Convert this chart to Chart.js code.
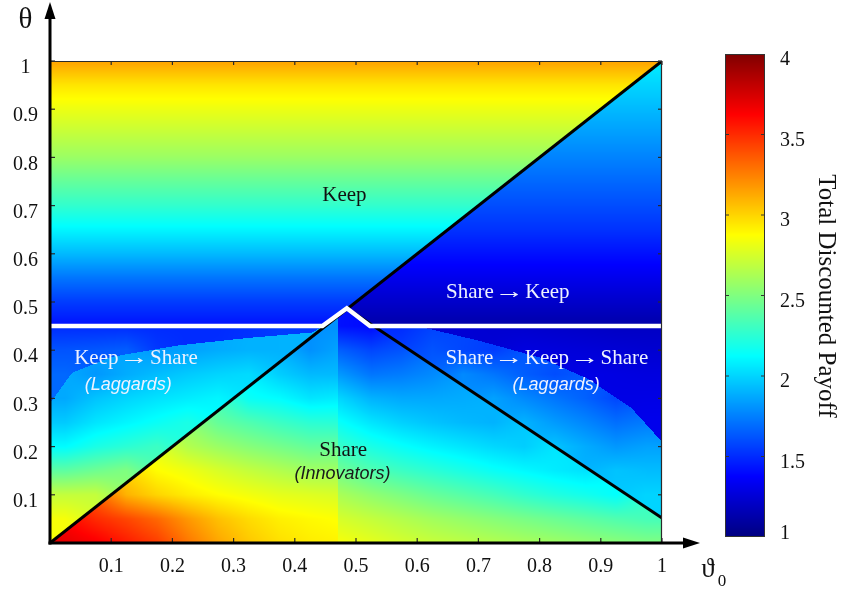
<!DOCTYPE html>
<html><head><meta charset="utf-8">
<script src="https://cdn.jsdelivr.net/npm/chart.js"></script>
<style>html,body{margin:0;padding:0;background:#fff;}canvas{display:block;}</style>
</head><body>
<canvas id="c" width="844" height="593"></canvas>
<script>
// ---------------- data ----------------
const xTickValues = [0.1,0.2,0.3,0.4,0.5,0.6,0.7,0.8,0.9,1];
const xTickLabels = ['0.1','0.2','0.3','0.4','0.5','0.6','0.7','0.8','0.9','1'];
const yTickValues = [0.1,0.2,0.3,0.4,0.5,0.6,0.7,0.8,0.9,1];
const yTickLabels = ['0.1','0.2','0.3','0.4','0.5','0.6','0.7','0.8','0.9','1'];
const cbTickValues = [1,1.5,2,2.5,3,3.5,4];
const cbTickLabels = ['1','1.5','2','2.5','3','3.5','4'];
const cbRange = [1,4];

// upper part (theta above the switching line): payoff by theta
const upperTheta      = [0.45,0.50,0.55,0.60,0.65,0.70,0.75,0.80,0.85,0.90,0.95,1.00];
const keepPayoff      = [1.42,1.55,1.72,1.92,2.10,2.27,2.42,2.58,2.70,2.82,2.95,3.15];
const shareKeepPayoff = [1.12,1.22,1.32,1.42,1.52,1.60,1.68,1.76,1.84,1.92,2.00,2.08];

// lower part (theta below the switching line): payoff grid, rows top (0.45) -> bottom (0)
const lowerGridX = [0.025,0.075,0.125,0.175,0.225,0.275,0.325,0.375,0.425,0.475,0.525,0.575,0.625,0.675,0.725,0.775,0.825,0.875,0.925,0.975];
const lowerGridTheta = [0.45,0.40,0.35,0.30,0.25,0.20,0.15,0.10,0.05,0.00];
const payoffT045 = [1.50,1.50,1.50,1.50,1.50,1.50,1.52,1.55,1.55,1.42,1.40,1.50,1.25,1.25,1.24,1.23,1.22,1.21,1.20,1.20];
const payoffT040 = [1.62,1.63,1.65,1.82,1.85,1.88,1.90,1.90,1.80,1.65,1.58,1.62,1.62,1.58,1.55,1.28,1.27,1.26,1.25,1.24];
const payoffT035 = [1.68,1.82,1.88,1.93,1.97,2.00,2.02,1.98,1.92,1.82,1.72,1.74,1.78,1.78,1.72,1.65,1.60,1.30,1.29,1.28];
const payoffT030 = [1.87,1.95,2.00,2.04,2.07,2.10,2.15,2.12,2.05,2.00,1.90,1.87,1.87,1.88,1.85,1.78,1.72,1.66,1.58,1.30];
const payoffT025 = [1.97,2.05,2.10,2.15,2.20,2.42,2.36,2.30,2.25,2.14,2.05,1.99,1.95,1.92,1.90,1.90,1.83,1.77,1.70,1.32];
const payoffT020 = [2.12,2.20,2.25,2.30,2.65,2.58,2.52,2.47,2.42,2.28,2.20,2.14,2.09,2.05,2.01,1.98,1.95,1.88,1.82,1.85];
const payoffT015 = [2.40,2.45,2.50,2.88,2.83,2.76,2.70,2.65,2.60,2.45,2.36,2.30,2.25,2.20,2.15,2.11,2.07,2.04,1.95,1.93];
const payoffT010 = [2.70,2.70,3.10,3.00,2.93,2.88,2.84,2.80,2.78,2.62,2.55,2.49,2.43,2.38,2.33,2.27,2.22,2.18,2.13,2.00];
const payoffT005 = [2.85,3.50,3.42,3.32,3.18,3.06,2.98,2.92,2.89,2.75,2.70,2.65,2.60,2.56,2.52,2.48,2.44,2.40,2.36,2.33];
const payoffT000 = [3.70,3.65,3.55,3.45,3.28,3.14,3.04,2.97,2.93,2.85,2.80,2.75,2.71,2.68,2.65,2.62,2.59,2.56,2.53,2.50];
const lowerPayoff = [payoffT045,payoffT040,payoffT035,payoffT030,payoffT025,payoffT020,payoffT015,payoffT010,payoffT005,payoffT000];

// region boundaries
const switchLineX     = [0, 0.445, 0.485, 0.523, 1];
const switchLineTheta = [0.45, 0.45, 0.487, 0.45, 0.45];
const diagX = [0, 1], diagTheta = [0, 1];
const descX = [0.485, 1], descTheta = [0.487, 0.052];
const leftArcX     = [0, 0.036, 0.10, 0.21, 0.32, 0.43, 0.445];
const leftArcTheta = [0.29, 0.353, 0.386, 0.41, 0.425, 0.437, 0.45];
const rightArcX     = [0.60, 0.70, 0.80, 0.88, 0.95, 1.00];
const rightArcTheta = [0.45, 0.42, 0.385, 0.34, 0.28, 0.21];
const seamX = [0.47];

// region captions
const captionTexts = ['Keep','Share \u2192 Keep','Keep \u2192 Share','(Laggards)','Share \u2192 Keep \u2192 Share','(Laggards)','Share','(Innovators)'];

// ---------------- helpers ----------------
function interpPoly(xs, ys, x){
  if (x <= xs[0]) return ys[0];
  const n = xs.length;
  if (x >= xs[n-1]) return ys[n-1];
  for (let i=1;i<n;i++){
    if (x <= xs[i]){ const f=(x-xs[i-1])/(xs[i]-xs[i-1]); return ys[i-1]+f*(ys[i]-ys[i-1]); }
  }
  return ys[n-1];
}
function regionAt(x,t){
  const w = interpPoly(switchLineX, switchLineTheta, x);
  if (t > w) return t > x ? 'keep' : 'shareKeep';
  if (t > x) return t > interpPoly(leftArcX, leftArcTheta, x) ? 'LO' : 'LI';
  const d = x < descX[0] ? Infinity : interpPoly(descX, descTheta, x);
  if (t < d) return x < seamX[0] ? 'SL' : 'SR';
  return t > interpPoly(rightArcX, rightArcTheta, x) ? 'RO' : 'RI';
}
function padGrid(region){
  const R = lowerGridTheta.length, C = lowerGridX.length;
  let g = lowerPayoff.map((row,j)=>row.map((v,i)=> regionAt(lowerGridX[i], lowerGridTheta[j])===region ? v : null));
  let guard = 0;
  while (g.some(r=>r.some(v=>v===null)) && guard++ < 60){
    const ng = g.map(r=>r.slice());
    for (let j=0;j<R;j++) for (let i=0;i<C;i++){
      if (g[j][i]!==null) continue;
      let s=0,n=0;
      for (let dj=-1;dj<=1;dj++) for (let di=-1;di<=1;di++){
        const jj=j+dj, ii=i+di;
        if (jj<0||jj>=R||ii<0||ii>=C) continue;
        if (g[jj][ii]!==null){ s+=g[jj][ii]; n++; }
      }
      if (n) ng[j][i]=s/n;
    }
    g = ng;
  }
  return g;
}
function bilinear(g, x, t){
  const R = lowerGridTheta.length, C = lowerGridX.length;
  let fi = (x - lowerGridX[0])/(lowerGridX[1]-lowerGridX[0]);
  let fj = (lowerGridTheta[0]-t)/(lowerGridTheta[0]-lowerGridTheta[1]);
  fi = Math.max(0, Math.min(C-1, fi)); fj = Math.max(0, Math.min(R-1, fj));
  const i0=Math.floor(fi), j0=Math.floor(fj), i1=Math.min(C-1,i0+1), j1=Math.min(R-1,j0+1);
  const a=fi-i0, b=fj-j0;
  return (g[j0][i0]*(1-a)+g[j0][i1]*a)*(1-b) + (g[j1][i0]*(1-a)+g[j1][i1]*a)*b;
}
function jet(v){
  let t=(v-cbRange[0])/(cbRange[1]-cbRange[0]); t=Math.max(0,Math.min(1,t));
  const c=(k)=>Math.max(0,Math.min(1,1.5-Math.abs(4*t-k)));
  return [Math.round(c(3)*255), Math.round(c(2)*255), Math.round(c(1)*255)];
}

const SERIF = "'Liberation Serif','Times New Roman','DejaVu Serif',serif";
const SANS = "'Liberation Sans',Arial,sans-serif";

// ---------------- plugins ----------------
const heatmapPlugin = {
  id:'heatmap',
  beforeDatasetsDraw(chart){
    const {ctx, chartArea:a} = chart, xs=chart.scales.x, ys=chart.scales.y;
    const w=Math.round(a.right-a.left), h=Math.round(a.bottom-a.top);
    if (!chart.$heat || chart.$heat.width!==w || chart.$heat.height!==h){
      const off=document.createElement('canvas'); off.width=w; off.height=h;
      const octx=off.getContext('2d'); const img=octx.createImageData(w,h);
      const grids={}; ['LO','LI','SL','SR','RI','RO'].forEach(r=>grids[r]=padGrid(r));
      for (let j=0;j<h;j++){
        const t=ys.getValueForPixel(a.top+j+0.5);
        for (let i=0;i<w;i++){
          const x=xs.getValueForPixel(a.left+i+0.5);
          const r=regionAt(x,t); let v;
          if (r==='keep') v=interpPoly(upperTheta,keepPayoff,t);
          else if (r==='shareKeep') v=interpPoly(upperTheta,shareKeepPayoff,t);
          else v=bilinear(grids[r],x,t);
          const c=jet(v), k=(j*w+i)*4;
          img.data[k]=c[0]; img.data[k+1]=c[1]; img.data[k+2]=c[2]; img.data[k+3]=255;
        }
      }
      octx.putImageData(img,0,0); chart.$heat=off;
    }
    ctx.drawImage(chart.$heat, a.left, a.top);
  }
};

const layoutCfg = {
  captions: [
    {x:0.481,y:0.7095,color:'#111',font:'21px '+SERIF},
    {x:0.748,y:0.508,color:'#eef2ff',font:'21px '+SERIF},
    {x:0.1405,y:0.371,color:'#eef2ff',font:'21px '+SERIF},
    {x:0.128,y:0.317,color:'#eef2ff',font:'italic 18px '+SANS},
    {x:0.812,y:0.371,color:'#eef2ff',font:'21px '+SERIF},
    {x:0.827,y:0.317,color:'#eef2ff',font:'italic 18px '+SANS},
    {x:0.479,y:0.180,color:'#111',font:'21px '+SERIF},
    {x:0.478,y:0.133,color:'#1a1a1a',font:'italic 18px '+SANS}
  ],
  arrowStretch:1.4,
  colorbar:{left:725,right:765,top:54,bottom:537}
};

// draws text centred at (cx, y); arrow glyph ink is stretched horizontally about its own centre
function drawCaption(ctx, txt, cx, y, font){
  const parts = txt.split('\u2192');
  const pieces = [];
  ctx.font=font;
  parts.forEach((p,i)=>{
    pieces.push({s:p});
    if (i<parts.length-1) pieces.push({s:'\u2192', arrow:true});
  });
  let total=0;
  pieces.forEach(pc=>{ pc.w=ctx.measureText(pc.s).width; total+=pc.w; });
  let x=cx-total/2;
  ctx.textBaseline='alphabetic';
  pieces.forEach(pc=>{
    if (pc.arrow){
      ctx.save(); ctx.translate(x+pc.w/2,y); ctx.scale(layoutCfg.arrowStretch,1);
      ctx.textAlign='center'; ctx.fillText(pc.s,0,0); ctx.restore();
    } else { ctx.textAlign='left'; ctx.fillText(pc.s, x, y); }
    x+=pc.w;
  });
}

const decorPlugin = {
  id:'decor',
  afterDraw(chart){
    const {ctx, chartArea:a} = chart, xs=chart.scales.x, ys=chart.scales.y;
    const line=(x1,y1,x2,y2)=>{ctx.beginPath();ctx.moveTo(x1,y1);ctx.lineTo(x2,y2);ctx.stroke();};
    ctx.save();
    // thin top / right frame
    ctx.strokeStyle='#2a2a2a'; ctx.lineWidth=1.2;
    line(a.left, a.top+0.5, a.right, a.top+0.5);
    line(a.right-0.5, a.top, a.right-0.5, a.bottom);
    xTickValues.forEach(v=>{const p=xs.getPixelForValue(v); line(p,a.top,p,a.top+4); line(p,a.bottom,p,a.bottom-5);});
    yTickValues.forEach(v=>{const p=ys.getPixelForValue(v); line(a.right,p,a.right-4,p); line(a.left,p,a.left+5,p);});
    // main axes with arrows
    ctx.strokeStyle='#000'; ctx.fillStyle='#000'; ctx.lineWidth=3;
    line(a.left, a.bottom+1.5, a.left, 16);
    line(a.left-1.5, a.bottom, 686, a.bottom);
    ctx.beginPath(); ctx.moveTo(a.left,2); ctx.lineTo(a.left-5.5,19); ctx.lineTo(a.left+5.5,19); ctx.closePath(); ctx.fill();
    ctx.beginPath(); ctx.moveTo(700,a.bottom); ctx.lineTo(683,a.bottom-5.5); ctx.lineTo(683,a.bottom+5.5); ctx.closePath(); ctx.fill();
    // axis titles
    ctx.fillStyle='#111'; ctx.textAlign='center'; ctx.textBaseline='alphabetic';
    ctx.font='29px '+SERIF; ctx.fillText('\u03b8', 25.5, 28);
    ctx.font='27px '+SERIF; ctx.fillText('\u03d1', 708, 577);
    ctx.font='17px '+SERIF; ctx.fillText('0', 722, 586);
    // captions
    captionTexts.forEach((txt,i)=>{
      const c=layoutCfg.captions[i];
      ctx.fillStyle=c.color;
      drawCaption(ctx, txt, xs.getPixelForValue(c.x), ys.getPixelForValue(c.y), c.font);
    });
    // colorbar
    const cb=layoutCfg.colorbar;
    const vToY=v=>cb.bottom-(v-cbRange[0])/(cbRange[1]-cbRange[0])*(cb.bottom-cb.top);
    for (let y=cb.top;y<cb.bottom;y++){
      const v=cbRange[1]-(y+0.5-cb.top)/(cb.bottom-cb.top)*(cbRange[1]-cbRange[0]);
      const c=jet(v); ctx.fillStyle=`rgb(${c[0]},${c[1]},${c[2]})`; ctx.fillRect(cb.left,y,cb.right-cb.left,1);
    }
    ctx.strokeStyle='#333'; ctx.lineWidth=1;
    ctx.strokeRect(cb.left+0.5,cb.top+0.5,cb.right-cb.left-1,cb.bottom-cb.top-1);
    ctx.font='20px '+SERIF; ctx.fillStyle='#111'; ctx.textAlign='left'; ctx.textBaseline='middle';
    cbTickValues.forEach((v,i)=>{
      const y=vToY(v);
      if (v>cbRange[0] && v<cbRange[1]){ line(cb.left,y,cb.left+4,y); line(cb.right,y,cb.right-4,y); }
      const ly=Math.min(cb.bottom-3, y+6);
      ctx.fillText(cbTickLabels[i], 780, ly);
    });
    // colorbar title
    ctx.save(); ctx.translate(826,296); ctx.rotate(Math.PI/2);
    ctx.font='25px '+SERIF; ctx.textAlign='center'; ctx.textBaseline='middle'; ctx.fillStyle='#111';
    ctx.fillText('Total Discounted Payoff',0,0); ctx.restore();
    ctx.restore();
  }
};

// ---------------- chart ----------------
const toPts=(xs,ys)=>xs.map((x,i)=>({x, y:ys[i]}));
new Chart(document.getElementById('c'), {
  type:'scatter',
  data:{datasets:[
    {label:'switch', data:toPts(switchLineX,switchLineTheta), showLine:true, borderColor:'#ffffff', borderWidth:4.5, pointRadius:0, order:0},
    {label:'diag', data:toPts(diagX,diagTheta), showLine:true, borderColor:'#000000', borderWidth:3, pointRadius:0, order:1},
    {label:'desc', data:toPts(descX,descTheta), showLine:true, borderColor:'#000000', borderWidth:3, pointRadius:0, order:1}
  ]},
  options:{
    responsive:false, animation:false, events:[],
    layout:{padding:{left:0,top:61,right:182,bottom:0}},
    plugins:{legend:{display:false}, tooltip:{enabled:false}},
    scales:{
      x:{type:'linear', min:0, max:1, position:'bottom',
         grid:{display:false, drawTicks:false}, border:{display:false},
         afterBuildTicks:s=>{ s.ticks = xTickValues.map(v=>({value:v})); },
         afterFit:s=>{ s.height=50; },
         ticks:{callback:(v,i)=>xTickLabels[i], autoSkip:false, maxRotation:0, padding:12, color:'#111', font:{family:SERIF, size:20}}},
      y:{type:'linear', min:0, max:1, position:'left',
         grid:{display:false, drawTicks:false}, border:{display:false},
         afterBuildTicks:s=>{ s.ticks = yTickValues.map(v=>({value:v})); },
         afterFit:s=>{ s.width=50; },
         ticks:{callback:(v,i)=>yTickLabels[i], autoSkip:false, padding:12, labelOffset:7, crossAlign:'center', color:'#111', font:{family:SERIF, size:20}}}
    }
  },
  plugins:[heatmapPlugin, decorPlugin]
});
</script>
</body></html>
